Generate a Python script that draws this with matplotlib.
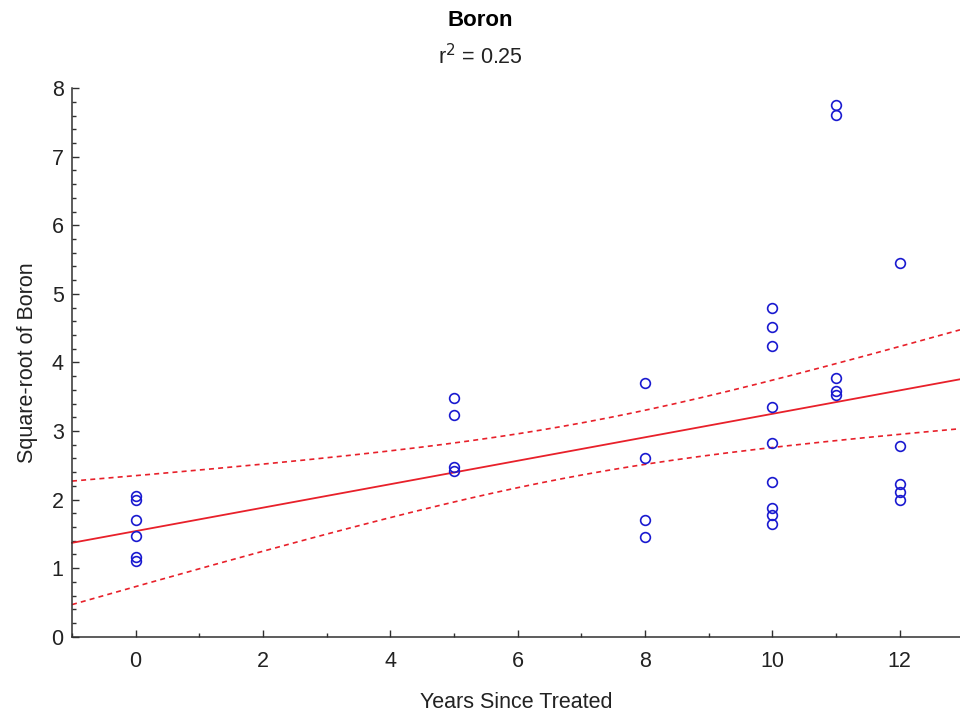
import numpy as np
import matplotlib
matplotlib.use("Agg")
import matplotlib.pyplot as plt
from matplotlib.ticker import MultipleLocator

plt.rcParams['font.family'] = ['Liberation Sans', 'DejaVu Sans']

# Data
years_0 = [0] * 6
boron_0 = [2.05, 1.99, 1.70, 1.47, 1.16, 1.10]
years_5 = [5] * 4
boron_5 = [3.48, 3.24, 2.47, 2.41]
years_8 = [8] * 4
boron_8 = [3.70, 2.60, 1.70, 1.45]
years_10 = [10] * 9
boron_10 = [4.80, 4.51, 4.24, 3.35, 2.82, 2.25, 1.87, 1.78, 1.64]
years_11 = [11] * 5
boron_11 = [7.75, 7.61, 3.78, 3.58, 3.52]
years_12 = [12] * 5
boron_12 = [5.45, 2.78, 2.23, 2.11, 2.00]

# Fitted regression line and its 95% confidence band
fit_intercept = 1.54
fit_slope = 0.171
band_min_halfwidth = 0.38
band_center_x = 6.97
band_curvature = 0.0105

title = "Boron"
subtitle = "r$^2$ = 0.25"
xlabel = "Years Since Treated"
ylabel = "Square-root of Boron"
xlim = (-1, 12.95)
ylim = (0, 8)

x = np.array(years_0 + years_5 + years_8 + years_10 + years_11 + years_12, float)
y = np.array(boron_0 + boron_5 + boron_8 + boron_10 + boron_11 + boron_12, float)

xx = np.linspace(xlim[0], xlim[1], 200)
yy = fit_intercept + fit_slope * xx
hw = np.sqrt(band_min_halfwidth ** 2 + band_curvature * (xx - band_center_x) ** 2)

fig = plt.figure(figsize=(9.6, 7.17), dpi=100)
ax = fig.add_axes([0.075, 0.112, 0.925, 0.765])

red = '#e8202a'
ax.plot(xx, yy, color=red, lw=1.3, clip_on=False)
ax.plot(xx, yy + hw, color=red, lw=1.2, ls=(0, (3, 2.5)), clip_on=False)
ax.plot(xx, yy - hw, color=red, lw=1.2, ls=(0, (3, 2.5)), clip_on=False)
ax.plot(x, y, ls='none', marker='o', ms=7, mfc='none', mec='#1a1ad0', mew=1.2)

ax.set_xlim(*xlim)
ax.set_ylim(*ylim)
ax.xaxis.set_major_locator(MultipleLocator(2))
ax.xaxis.set_minor_locator(MultipleLocator(1))
ax.yaxis.set_major_locator(MultipleLocator(1))
ax.yaxis.set_minor_locator(MultipleLocator(0.2))
ax.tick_params(which='both', direction='in', colors='#303030', labelcolor='#222222')
ax.tick_params(axis='x', which='major', length=5, width=1, labelsize=15.5, pad=10)
ax.tick_params(axis='x', which='minor', length=3, width=1)
ax.tick_params(axis='y', which='major', length=5, width=1, labelsize=15.5, pad=6)
ax.tick_params(axis='y', which='minor', length=3, width=1)
for sp in ['top', 'right']:
    ax.spines[sp].set_visible(False)
for sp in ['left', 'bottom']:
    ax.spines[sp].set_color('#303030')
    ax.spines[sp].set_linewidth(1.1)

ax.set_xlabel(xlabel, fontsize=15.5, color='#222222', labelpad=15)
ax.set_ylabel(ylabel, fontsize=15.5, color='#222222', labelpad=10)

fig.text(0.5, 1 - 20 / 717, title, ha='center', va='center', fontsize=16, fontweight='bold')
fig.text(0.5, 1 - 57 / 717, subtitle, ha='center', va='center', fontsize=15.5, color='#222222')

fig.savefig("out.png", dpi=100)
